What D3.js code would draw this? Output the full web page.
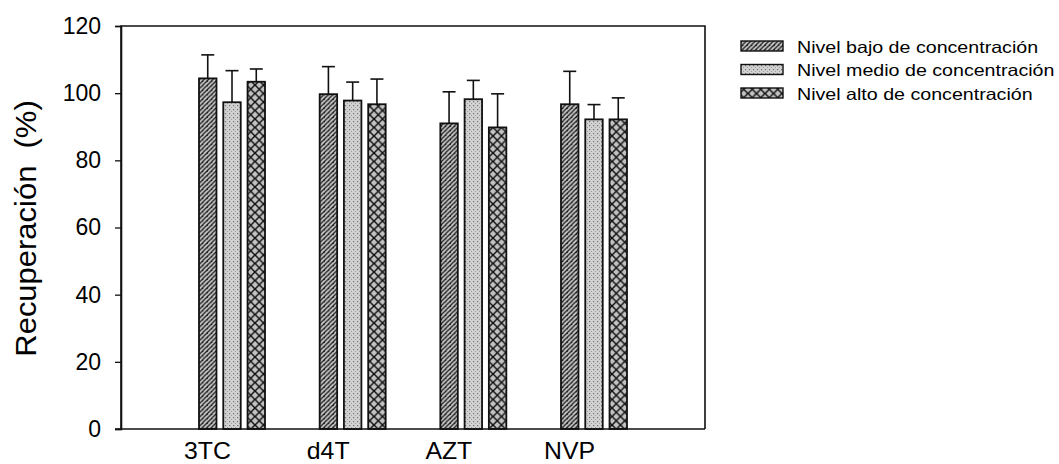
<!DOCTYPE html>
<html>
<head>
<meta charset="utf-8">
<script src="https://cdn.jsdelivr.net/npm/d3@7"></script>
<style>
  html, body { margin: 0; padding: 0; background: #fff; }
  svg { display: block; font-family: "Liberation Sans", Arial, sans-serif; }
</style>
</head>
<body>
<svg id="chart" width="1059" height="464"></svg>
<script>
// Recovery (%) per compound at three concentration levels, with upward SD bars
const categories = ["3TC", "d4T", "AZT", "NVP"];
const seriesNames = [
  "Nivel bajo de concentración",
  "Nivel medio de concentración",
  "Nivel alto de concentración"
];
const lowValues  = [104.4, 99.7, 91.0, 96.7];
const midValues  = [97.3, 97.8, 98.2, 92.2];
const highValues = [103.4, 96.7, 89.8, 92.2];
const lowErrors  = [7.0, 8.2, 9.4, 9.8];
const midErrors  = [9.4, 5.5, 5.6, 4.4];
const highErrors = [3.8, 7.5, 10.0, 6.4];
const yTicks = [0, 20, 40, 60, 80, 100, 120];

const seriesValues = [lowValues, midValues, highValues];
const seriesErrors = [lowErrors, midErrors, highErrors];
const patternIds = ["hatch", "dots", "cross"];

const svg = d3.select("#chart");
const plotLeft = 121, plotRight = 705, plotTop = 26, plotBottom = 429;

// Fill patterns
const defs = svg.append("defs");
const hatch = defs.append("pattern").attr("id", "hatch")
  .attr("patternUnits", "userSpaceOnUse").attr("width", 4.5).attr("height", 4.5);
hatch.append("rect").attr("width", 4.5).attr("height", 4.5).attr("fill", "#c8c8c8");
hatch.append("path").attr("d", "M-1,5.5 L5.5,-1 M-2,2.5 L2.5,-2 M2,7 L7,2")
  .attr("stroke", "#111").attr("stroke-width", 1.2);

const dots = defs.append("pattern").attr("id", "dots")
  .attr("patternUnits", "userSpaceOnUse").attr("width", 4).attr("height", 4);
dots.append("rect").attr("width", 4).attr("height", 4).attr("fill", "#d2d2d2");
dots.append("rect").attr("x", 1).attr("y", 1).attr("width", 1.2).attr("height", 1.2).attr("fill", "#707070");
dots.append("rect").attr("x", 3).attr("y", 3).attr("width", 1).attr("height", 1).attr("fill", "#9a9a9a");

const cross = defs.append("pattern").attr("id", "cross")
  .attr("patternUnits", "userSpaceOnUse").attr("width", 8.5).attr("height", 8.5);
cross.append("rect").attr("width", 8.5).attr("height", 8.5).attr("fill", "#c2c2c2");
cross.append("path").attr("d", "M0,0 L8.5,8.5 M8.5,0 L0,8.5")
  .attr("stroke", "#111").attr("stroke-width", 1.5);

// Scales
const x = d3.scaleBand().domain(categories).range([plotLeft, plotRight])
  .paddingInner(0).paddingOuter(0.42);
const xSub = d3.scaleBand().domain(d3.range(seriesNames.length)).range([-33, 33])
  .paddingInner(0.28).paddingOuter(0);
const y = d3.scaleLinear().domain([0, 120]).range([plotBottom, plotTop]);

// Bars and error bars
seriesNames.forEach((name, si) => {
  const g = svg.append("g");
  const data = categories.map((c, i) => ({ c, v: seriesValues[si][i], e: seriesErrors[si][i] }));
  const bx = d => x(d.c) + x.bandwidth() / 2 + xSub(si);
  const mid = d => bx(d) + xSub.bandwidth() / 2;
  g.selectAll("line.stem").data(data).join("line").attr("class", "stem")
    .attr("x1", mid).attr("x2", mid)
    .attr("y1", d => y(d.v)).attr("y2", d => y(d.v + d.e))
    .attr("stroke", "#111").attr("stroke-width", 1.6);
  g.selectAll("line.cap").data(data).join("line").attr("class", "cap")
    .attr("x1", d => mid(d) - 6.5).attr("x2", d => mid(d) + 6.5)
    .attr("y1", d => y(d.v + d.e)).attr("y2", d => y(d.v + d.e))
    .attr("stroke", "#111").attr("stroke-width", 1.6);
  g.selectAll("rect").data(data).join("rect")
    .attr("x", bx)
    .attr("y", d => y(d.v))
    .attr("width", xSub.bandwidth())
    .attr("height", d => y(0) - y(d.v))
    .attr("fill", `url(#${patternIds[si]})`)
    .attr("stroke", "#111").attr("stroke-width", 1.8);
});

// Frame
svg.append("path")
  .attr("d", `M${plotLeft},${plotBottom} L${plotLeft},${plotTop} L${plotRight},${plotTop} L${plotRight},${plotBottom}`)
  .attr("fill", "none").attr("stroke", "#111").attr("stroke-width", 1.6);

// Y axis
const yAxis = svg.append("g").attr("transform", `translate(${plotLeft},0)`)
  .call(d3.axisLeft(y).tickValues(yTicks).tickSize(6).tickPadding(14).tickFormat(d3.format("d")));
yAxis.select(".domain").attr("stroke", "#111").attr("stroke-width", 1.6);
yAxis.selectAll(".tick line").attr("stroke", "#111").attr("stroke-width", 1.3);
yAxis.selectAll("text").attr("font-size", 23).attr("fill", "#000")
  .attr("font-family", "'Liberation Sans', Arial, sans-serif");

// Baseline, extended left by the tick length
svg.append("line").attr("x1", plotLeft - 6).attr("x2", plotRight)
  .attr("y1", plotBottom).attr("y2", plotBottom)
  .attr("stroke", "#111").attr("stroke-width", 1.6);

// Category labels
svg.append("g").selectAll("text").data(categories).join("text")
  .attr("transform", d => `translate(${x(d) + x.bandwidth() / 2 - 24.5},459) scale(1.08,1)`)
  .attr("text-anchor", "middle")
  .attr("font-size", 23)
  .text(d => d);

// Y axis title
svg.append("text")
  .attr("transform", `translate(36,228.5) rotate(-90) scale(1.05,1)`)
  .attr("text-anchor", "middle")
  .attr("font-size", 29.5)
  .attr("xml:space", "preserve")
  .text("Recuperación  (%)");

// Legend
const legend = svg.append("g");
seriesNames.forEach((name, i) => {
  const ly = 46.5 + i * 23.5;
  legend.append("rect").attr("x", 741).attr("y", ly - 5.5).attr("width", 42).attr("height", 10)
    .attr("fill", `url(#${patternIds[i]})`).attr("stroke", "#111").attr("stroke-width", 1.4);
  legend.append("text")
    .attr("transform", `translate(797,${ly + 6}) scale(1.19,1)`)
    .attr("font-size", 16.5).text(name);
});
</script>
</body>
</html>
